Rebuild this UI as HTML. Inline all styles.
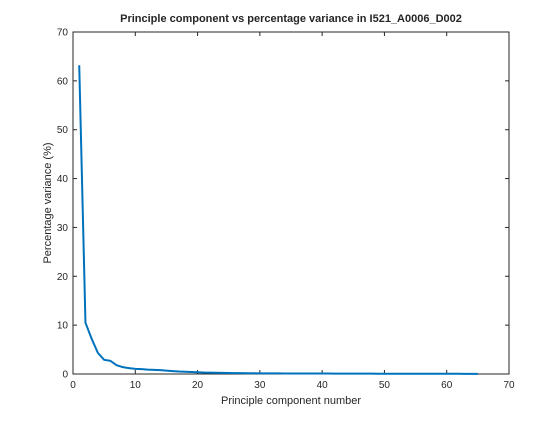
<!DOCTYPE html>
<html><head><meta charset="utf-8"><style>
body{margin:0;background:#fff;}
svg text{font-family:"Liberation Sans",sans-serif;fill:#262626;}
</style></head><body>
<svg width="560" height="420" xmlns="http://www.w3.org/2000/svg">
<rect width="560" height="420" fill="#fff"/>
<g id="ticks"></g>
<rect x="73" y="32" width="436" height="342" fill="none" stroke="#262626" stroke-width="1"/>
<polyline id="line" fill="none" stroke="#0072bd" stroke-width="2"/>
<text x="291" y="22" text-anchor="middle" font-size="11" font-weight="bold">Principle component vs percentage variance in I521_A0006_D002</text>
<text x="291" y="404" text-anchor="middle" font-size="11">Principle component number</text>
<text transform="translate(51,203) rotate(-90)" text-anchor="middle" font-size="11">Percentage variance (%)</text>
</svg>
<script>
const xTicks=[0,10,20,30,40,50,60,70];
const yTicks=[0,10,20,30,40,50,60,70];
const variance=[63.2,10.5,7.2,4.3,2.9,2.7,1.8,1.4,1.2,1.05,1.0,0.9,0.85,0.8,0.7,0.6,0.5,0.45,0.4,0.35,0.3,0.28,0.25,0.22,0.2,0.18,0.17,0.16,0.15,0.14,0.13,0.12,0.12,0.11,0.11,0.1,0.1,0.1,0.09,0.09,0.09,0.08,0.08,0.08,0.07,0.07,0.07,0.07,0.06,0.06,0.06,0.06,0.05,0.05,0.05,0.05,0.05,0.04,0.04,0.04,0.04,0.04,0.03,0.03,0.03];
const X=v=>73+v*436/70, Y=v=>374-v*342/70;
const ns="http://www.w3.org/2000/svg", g=document.getElementById('ticks');
function mk(t,a){const e=document.createElementNS(ns,t);for(const k in a)e.setAttribute(k,a[k]);g.appendChild(e);return e;}
xTicks.forEach(v=>{
 const l=mk('line',{x1:X(v),x2:X(v),y1:374,y2:370,stroke:'#262626'});
 
 
 const l2=mk('line',{x1:X(v),x2:X(v),y1:32,y2:36,stroke:'#262626'});
 
 
 const t=mk('text',{x:X(v),y:388,'text-anchor':'middle','font-size':10});
 t.textContent=v;
 
 
});
yTicks.forEach(v=>{
 const l=mk('line',{x1:73,x2:77,y1:Y(v),y2:Y(v),stroke:'#262626'});
 
 
 const l2=mk('line',{x1:509,x2:505,y1:Y(v),y2:Y(v),stroke:'#262626'});
 
 
 const t=mk('text',{x:68,y:Y(v)+3.5,'text-anchor':'end','font-size':10});
 t.textContent=v;
 
 
});
document.getElementById('line').setAttribute('points',variance.map((v,i)=>X(i+1)+','+Y(v)).join(' '));
</script>
</body></html>
